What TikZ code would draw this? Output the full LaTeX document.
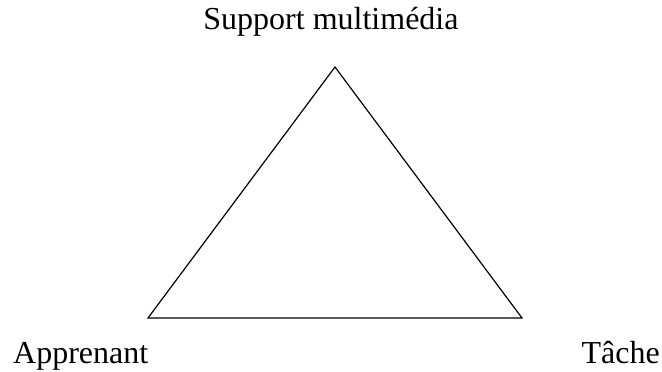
\documentclass[tikz,border=0pt]{standalone}
\usepackage{fontspec}
\setmainfont{Liberation Serif}
\begin{document}
\begin{tikzpicture}[x=1pt,y=-1pt,
  lbl/.style={inner sep=0pt,font=\fontsize{32}{32}\selectfont},
  edge/.style={line width=1.2pt,line join=miter}]
\useasboundingbox (0,0) rectangle (662,372);
\coordinate (top) at (335,67);
\coordinate (bl) at (148,318);
\coordinate (br) at (522,318);
\draw[edge] (top) -- (bl) -- (br) -- cycle;
\node[lbl,anchor=base] (sup) at (331,30) {Support multimédia};
\node[lbl,anchor=base west] (app) at (13,363) {Apprenant};
\node[lbl,anchor=base east] (tac) at (660,363) {Tâche};
\end{tikzpicture}
\end{document}
